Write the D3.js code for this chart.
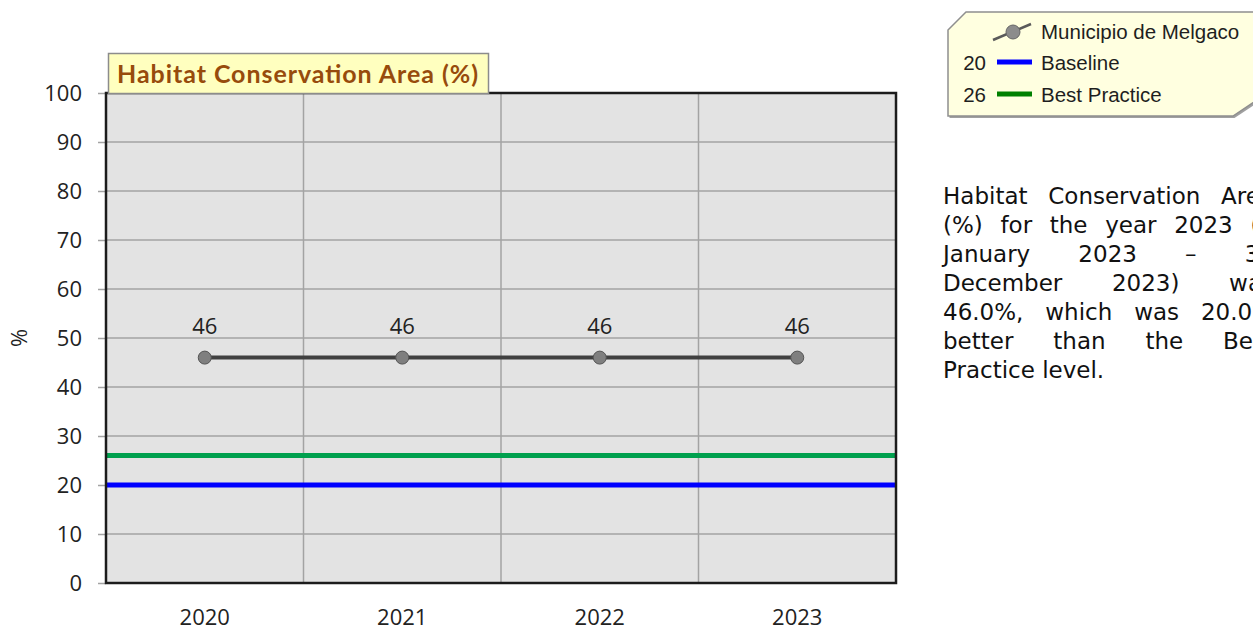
<!DOCTYPE html>
<html><head><meta charset="utf-8">
<script src="https://cdn.jsdelivr.net/npm/d3@7"></script>
<style>body{margin:0;background:#fff;overflow:hidden} svg{display:block}</style>
</head><body>
<svg id="c" width="1253" height="630"></svg>
<script>
const categories = ["2020", "2021", "2022", "2023"];
const seriesName = "Municipio de Melgaco";
const seriesValues = [46, 46, 46, 46];
const baselineName = "Baseline";
const baselineValue = 20;
const bestPracticeName = "Best Practice";
const bestPracticeValue = 26;
const yTicks = [0, 10, 20, 30, 40, 50, 60, 70, 80, 90, 100];
const chartTitle = "Habitat Conservation Area (%)";
const yAxisLabel = "%";
const commentLines = [
  "Habitat Conservation Area",
  "(%) for the year 2023 (1",
  "January 2023 – 31",
  "December 2023) was",
  "46.0%, which was 20.0%",
  "better than the Best",
  "Practice level."
];

const svg = d3.select("#c");
const L = 106, R = 896, T = 93, B = 583;
const x = d3.scaleBand().domain(categories).range([L, R]);
const y = d3.scaleLinear().domain([0, 100]).range([B, T]);
const cx = d => x(d) + x.bandwidth() / 2;

// plot background
svg.append("rect").attr("x", L).attr("y", T).attr("width", R - L).attr("height", B - T).attr("fill", "#e3e3e3");

// horizontal gridlines
svg.append("g").selectAll("line").data(yTicks).join("line")
  .attr("x1", L).attr("x2", R).attr("y1", d => y(d)).attr("y2", d => y(d))
  .attr("stroke", "#a3a3a3").attr("stroke-width", 1.5);
// vertical gridlines at category boundaries
svg.append("g").selectAll("line").data(categories.slice(1)).join("line")
  .attr("x1", d => x(d)).attr("x2", d => x(d)).attr("y1", T).attr("y2", B)
  .attr("stroke", "#a3a3a3").attr("stroke-width", 1.5);

// y axis
const yAxis = svg.append("g").attr("transform", `translate(${L},0)`)
  .call(d3.axisLeft(y).tickValues(yTicks).tickSize(8).tickPadding(16));
yAxis.select(".domain").remove();
yAxis.selectAll(".tick line").attr("stroke", "#a3a3a3").attr("stroke-width", 1.5);
yAxis.selectAll("text").attr("font-family", "Open Sans").attr("font-size", 22).attr("fill", "#222");

// x axis
const xAxis = svg.append("g").attr("transform", `translate(0,${B})`)
  .call(d3.axisBottom(x).tickSize(0));
xAxis.select(".domain").remove();
xAxis.selectAll("text").attr("dy", null).attr("y", 42)
  .attr("font-family", "Open Sans").attr("font-size", 22).attr("fill", "#222");

// y label
svg.append("text").attr("transform", "translate(27,338) rotate(-90)")
  .attr("text-anchor", "middle").attr("font-family", "Open Sans").attr("font-size", 22)
  .attr("fill", "#222").text(yAxisLabel);

// reference lines
svg.append("line").attr("x1", L).attr("x2", R).attr("y1", y(bestPracticeValue)).attr("y2", y(bestPracticeValue))
  .attr("stroke", "#00a04e").attr("stroke-width", 5);
svg.append("line").attr("x1", L).attr("x2", R).attr("y1", y(baselineValue)).attr("y2", y(baselineValue))
  .attr("stroke", "#0000ff").attr("stroke-width", 5);

// frame
svg.append("rect").attr("x", L).attr("y", T).attr("width", R - L).attr("height", B - T)
  .attr("fill", "none").attr("stroke", "#1c1c1c").attr("stroke-width", 2.5);

// series
const data = categories.map((c, i) => ({c, v: seriesValues[i]}));
svg.append("path").datum(data)
  .attr("d", d3.line().x(d => cx(d.c)).y(d => y(d.v)))
  .attr("fill", "none").attr("stroke", "#404040").attr("stroke-width", 4);
svg.append("g").selectAll("circle").data(data).join("circle")
  .attr("cx", d => cx(d.c)).attr("cy", d => y(d.v)).attr("r", 6.5)
  .attr("fill", "#7f7f7f").attr("stroke", "#555").attr("stroke-width", 1);
svg.append("g").selectAll("text").data(data).join("text")
  .attr("x", d => cx(d.c)).attr("y", d => y(d.v) - 24)
  .attr("text-anchor", "middle").attr("font-family", "Open Sans").attr("font-size", 22)
  .attr("fill", "#222").text(d => d.v);

// title box
svg.append("rect").attr("x", 108.5).attr("y", 53.5).attr("width", 380).attr("height", 40)
  .attr("fill", "#ffffbf").attr("stroke", "#8c8c8c").attr("stroke-width", 1.5);
svg.append("text").attr("x", 117).attr("y", 83)
  .attr("font-family", "Lato").attr("font-weight", "bold").attr("font-size", 25)
  .attr("fill", "#974b0c").attr("textLength", 361).attr("lengthAdjust", "spacing")
  .text(chartTitle);

// legend
const lg = svg.append("g");
const legPts = "948,30 966,12 1275,12 1275,88 1233,116 948,116";
lg.append("polygon").attr("points", legPts).attr("transform", "translate(1.5,2)").attr("fill", "#a0a0a0");
lg.append("polygon").attr("points", legPts)
  .attr("fill", "#ffffe0").attr("stroke", "#8f8f8f").attr("stroke-width", 1.5);
lg.append("line").attr("x1", 993).attr("y1", 40).attr("x2", 1031).attr("y2", 24)
  .attr("stroke", "#5a5a5a").attr("stroke-width", 2.5);
lg.append("circle").attr("cx", 1013).attr("cy", 32).attr("r", 7)
  .attr("fill", "#8c8c8c").attr("stroke", "#666").attr("stroke-width", 1);
const legFont = {"font-family": "Liberation Sans", "font-size": 20.5, "fill": "#1e1e1e"};
function lt(xp, yp, s, anchor) {
  const t = lg.append("text").attr("x", xp).attr("y", yp).attr("text-anchor", anchor || "start").text(s);
  Object.entries(legFont).forEach(([k, v]) => t.attr(k, v));
  return t;
}
lt(1041, 39, seriesName);
lt(986, 70, String(baselineValue), "end");
lg.append("line").attr("x1", 997).attr("x2", 1032).attr("y1", 62).attr("y2", 62).attr("stroke", "#0000ff").attr("stroke-width", 5);
lt(1041, 70, baselineName);
lt(986, 102, String(bestPracticeValue), "end");
lg.append("line").attr("x1", 997).attr("x2", 1032).attr("y1", 94).attr("y2", 94).attr("stroke", "#008000").attr("stroke-width", 5);
lt(1041, 102, bestPracticeName);

// commentary paragraph, justified
const px = 943, pw = 331, py0 = 204, lh = 29;
commentLines.forEach((line, i) => {
  const words = line.split(" ");
  const g = svg.append("g");
  const texts = words.map(w => g.append("text").attr("y", py0 + i * lh)
    .attr("font-family", "DejaVu Sans").attr("font-size", 23).attr("fill", "#111").text(w));
  const widths = texts.map(t => t.node().getComputedTextLength());
  const last = i === commentLines.length - 1;
  const total = d3.sum(widths);
  const gap = (last || words.length < 2) ? 7.3 : (pw - total) / (words.length - 1);
  let cur = px;
  texts.forEach((t, j) => { t.attr("x", cur); cur += widths[j] + gap; });
});
</script>
</body></html>
